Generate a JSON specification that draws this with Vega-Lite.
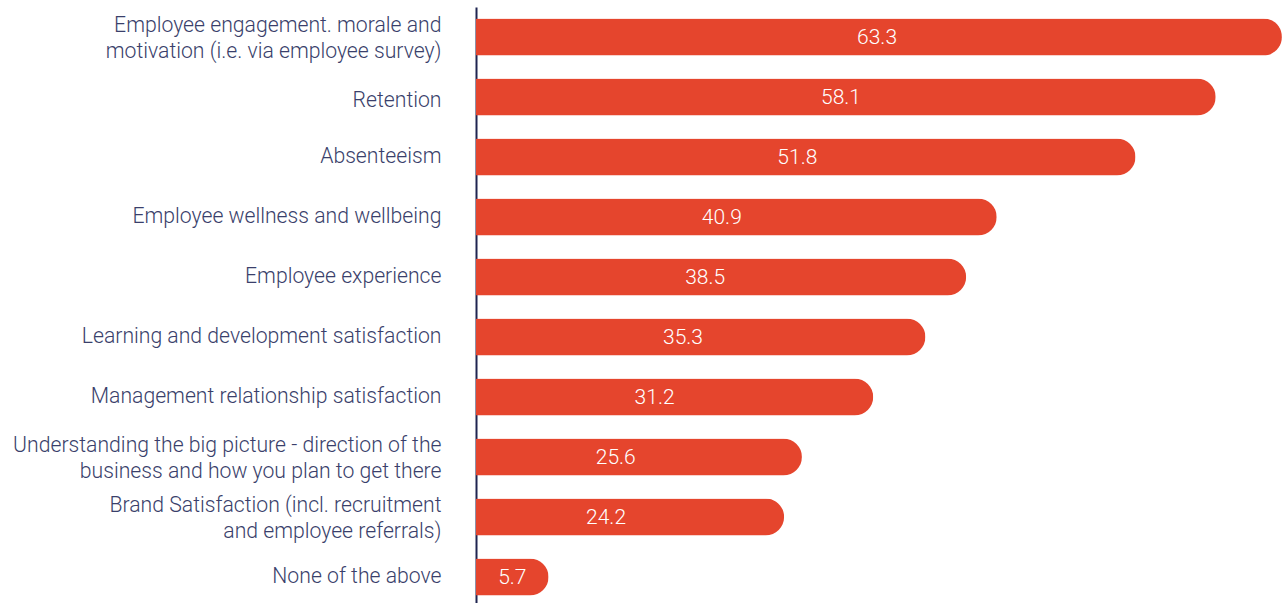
{
  "$schema": "https://vega.github.io/schema/vega-lite/v6.json",
  "width": 811,
  "height": 600,
  "autosize": {"type": "none"},
  "padding": {"left": 476, "top": 7, "right": 0, "bottom": 0},
  "background": "white",
  "config": {"view": {"stroke": null}},
  "data": {"values": [
    {"item": "Employee engagement. morale and|motivation (i.e. via employee survey)", "value": 63.3},
    {"item": "Retention", "value": 58.1},
    {"item": "Absenteeism", "value": 51.8},
    {"item": "Employee wellness and wellbeing", "value": 40.9},
    {"item": "Employee experience", "value": 38.5},
    {"item": "Learning and development satisfaction", "value": 35.3},
    {"item": "Management relationship satisfaction", "value": 31.2},
    {"item": "Understanding the big picture - direction of the|business and how you plan to get there", "value": 25.6},
    {"item": "Brand Satisfaction (incl. recruitment|and employee referrals)", "value": 24.2},
    {"item": "None of the above", "value": 5.7}
  ]},
  "transform": [{"calculate": "datum.value < 10 ? datum.value / 2 : datum.value * 0.5444 - 2.96", "as": "labelPos"}],
  "encoding": {
    "y": {
      "field": "item", "type": "nominal", "sort": null,
      "scale": {"paddingInner": 0.38, "paddingOuter": 0.19},
      "axis": {
        "title": null, "ticks": false, "domain": true, "domainColor": "#1f2451", "domainWidth": 2,
        "labelExpr": "split(datum.label, '|')",
        "labelFont": "Roboto", "labelFontWeight": 300, "labelFontSize": 21.2, "labelColor": "#3a3f6b",
        "labelPadding": 35, "labelLineHeight": 26, "labelLimit": 600,
        "labelOffset": {"expr": "indexof(datum.value, '|') >= 0 ? -11 : (datum.value == 'Retention' ? 4 : 0)"}
      }
    }
  },
  "layer": [
    {
      "mark": {"type": "bar", "color": "#e5452d", "cornerRadiusEnd": 18.5},
      "encoding": {
        "x": {"field": "value", "type": "quantitative", "scale": {"domain": [0, 63.7], "nice": false}, "axis": null}
      }
    },
    {
      "mark": {"type": "text", "color": "white", "font": "Roboto", "fontWeight": 300, "fontSize": 21, "align": "center", "baseline": "middle", "dy": 1},
      "encoding": {
        "x": {"field": "labelPos", "type": "quantitative"},
        "text": {"field": "value", "type": "quantitative", "format": ".1f"}
      }
    }
  ]
}
